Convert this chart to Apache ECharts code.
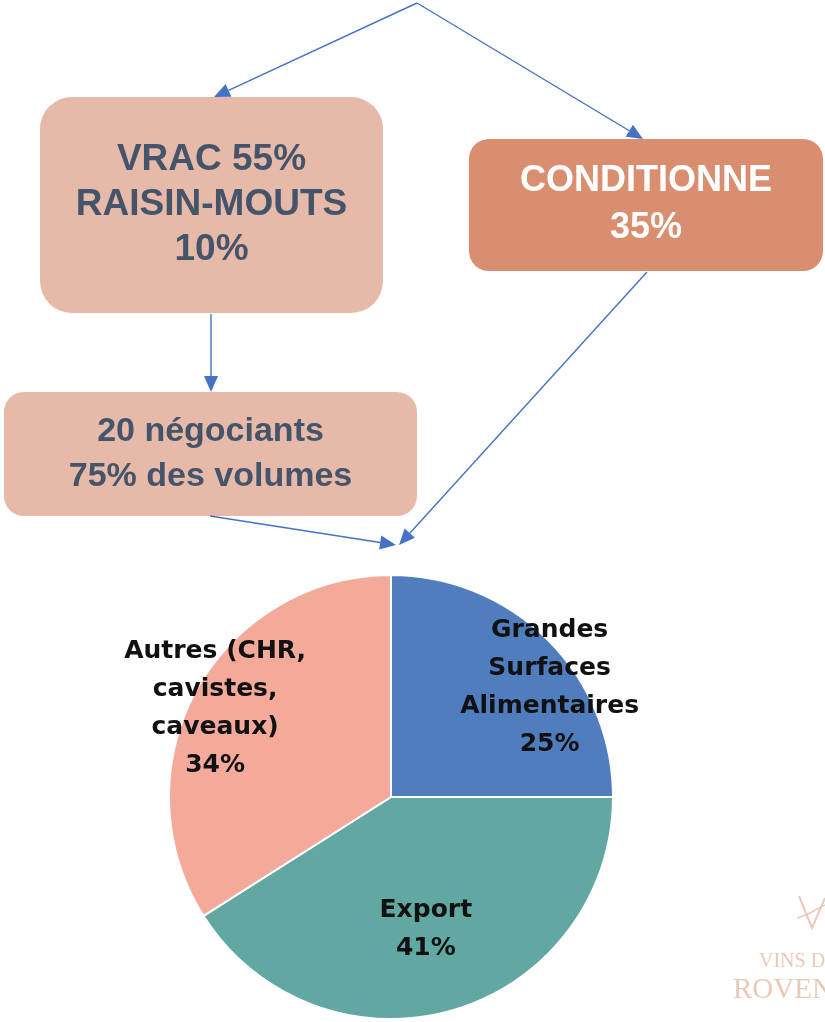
<!DOCTYPE html>
<html>
<head>
<meta charset="utf-8">
<script src="https://cdn.jsdelivr.net/npm/echarts@6/dist/echarts.min.js"></script>
<style>
  html, body { margin: 0; padding: 0; background: #fff; }
  #chart { width: 825px; height: 1022px; }
</style>
</head>
<body>
<div id="chart"></div>
<script>
// données du camembert
const categories = ["Grandes\nSurfaces\nAlimentaires", "Export", "Autres (CHR,\ncavistes,\ncaveaux)"];
const shares = [25, 41, 34];
const sliceColors = ["#4F7DBE", "#62A8A2", "#F3AA9B"];
// décalage des étiquettes par rapport à la position "inside"
const labelShift = [[78, -29], [3, 23], [-76, -34]];

// textes des boîtes du schéma
const boxTexts = ["VRAC 55%\nRAISIN-MOUTS\n10%", "CONDITIONNE\n35%", "20 négociants\n75% des volumes"];

const ARROW = "#4472C4";
const LOGO = "#EBC9B8";

// flèche = trait + tête triangulaire
function arrow(x1, y1, x2, y2) {
  const len = Math.hypot(x2 - x1, y2 - y1);
  const ux = (x2 - x1) / len, uy = (y2 - y1) / len;
  const hl = 16, hw = 7;
  const bx = x2 - ux * hl, by = y2 - uy * hl;
  return [
    { type: "line", shape: { x1: x1, y1: y1, x2: bx, y2: by }, style: { stroke: ARROW, lineWidth: 1.4 } },
    {
      type: "polygon",
      shape: { points: [[x2, y2], [bx - uy * hw, by + ux * hw], [bx + uy * hw, by - ux * hw]] },
      style: { fill: ARROW },
    },
  ];
}

function box(x, y, w, h, r, fill, text, font, color, lh) {
  return [
    { type: "rect", shape: { x: x, y: y, width: w, height: h, r: r }, style: { fill: fill } },
    {
      type: "text",
      style: {
        text: text, x: x + w / 2, y: y + h / 2, align: "center", verticalAlign: "middle",
        font: font, fill: color, lineHeight: lh,
      },
    },
  ];
}

const chart = echarts.init(document.getElementById("chart"));

let graphics = [];
graphics = graphics.concat(box(40, 97, 343, 216, 32, "#E7B9A8", boxTexts[0], "bold 37px 'Liberation Sans'", "#44546A", 45));
graphics = graphics.concat(box(469, 139, 354, 132, 20, "#D98E6F", boxTexts[1], "bold 36px 'Liberation Sans'", "#ffffff", 47));
graphics = graphics.concat(box(4, 392, 413, 124, 20, "#E7B9A8", boxTexts[2], "bold 34px 'Liberation Sans'", "#44546A", 45));
graphics = graphics.concat(arrow(417, 3, 214, 97));
graphics = graphics.concat(arrow(417, 3, 643, 139));
graphics = graphics.concat(arrow(211, 314, 211, 392));
graphics = graphics.concat(arrow(210, 516, 396, 545));
graphics = graphics.concat(arrow(647, 272, 399, 545));

// logo (coupé à droite)
graphics.push({
  type: "polyline",
  shape: { points: [[799, 896], [812, 928], [825, 898]] },
  style: { stroke: LOGO, lineWidth: 2, fill: null },
});
graphics.push({
  type: "polyline",
  shape: { points: [[797, 918], [808, 914], [825, 905]] },
  style: { stroke: LOGO, lineWidth: 1.5, fill: null },
});
graphics.push({
  type: "text",
  style: { text: "VINS DE", x: 759, y: 962, verticalAlign: "middle", font: "20px 'Liberation Serif'", fill: LOGO },
});
graphics.push({
  type: "text",
  style: { text: "ROVENCE", x: 733, y: 990, verticalAlign: "middle", font: "29px 'Liberation Serif'", fill: LOGO },
});

const option = {
  animation: false,
  graphic: graphics,
  series: [
    {
      type: "pie",
      center: [391, 797],
      radius: 222,
      startAngle: 90,
      clockwise: true,
      silent: true,
      itemStyle: { borderColor: "#ffffff", borderWidth: 2 },
      label: {
        show: true,
        position: "inside",
        color: "#111111",
        fontFamily: "DejaVu Sans",
        fontWeight: "bold",
        fontSize: 25,
        lineHeight: 38,
        align: "center",
        formatter: function (p) {
          return p.name + "\n" + p.value + "%";
        },
      },
      labelLine: { show: false },
      labelLayout: function (params) {
        return { dx: labelShift[params.dataIndex][0], dy: labelShift[params.dataIndex][1] };
      },
      data: categories.map(function (c, i) {
        return { name: c, value: shares[i], itemStyle: { color: sliceColors[i] } };
      }),
    },
  ],
};

chart.setOption(option);
</script>
</body>
</html>
